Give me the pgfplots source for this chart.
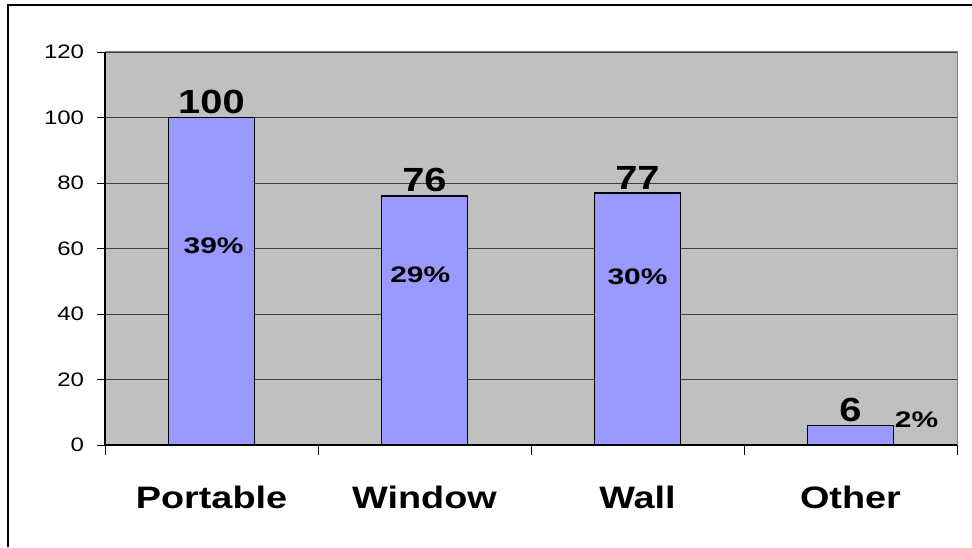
\documentclass[border=0pt]{standalone}
\usepackage{pgfplots}
\pgfplotsset{compat=1.18}
\usepackage{fontspec}
\setmainfont{Liberation Sans}
\definecolor{barc}{HTML}{9999FF}
\definecolor{plotbg}{HTML}{C0C0C0}
\begin{document}
\begin{tikzpicture}[x=1pt,y=1pt]
\path[use as bounding box] (0,0) rectangle (972,547);
\draw[black, line width=1.2pt] (8,0) -- (8,542) -- (972,542);
\begin{axis}[
  at={(105pt,102pt)}, anchor=south west,
  scale only axis, width=852pt, height=393pt,
  xmin=-0.5, xmax=3.5, ymin=0, ymax=120,
  axis background/.style={fill=plotbg},
  axis line style={draw=none},
  ytick={0,20,...,120},
  ymajorgrids, grid style={black!75, line width=0.9pt},
  xtick={0,1,2,3},
  xticklabels={Portable,Window,Wall,Other},
  xtick pos=bottom, ytick pos=left,
  xticklabel style={font=\fontsize{31}{34}\selectfont\bfseries, xscale=1.22, yshift=-29pt},
  yticklabel style={font=\fontsize{19.5}{22}\selectfont, xscale=1.23, anchor=east, xshift=-7pt},
  /pgf/number format/assume math mode=true,
  major x tick style={draw=none},
  minor xtick={-0.5,0.5,1.5,2.5,3.5},
  minor x tick style={black, line width=0.9pt},
  minor tick length=10pt,
  major tick length=8pt,
  y tick style={black, line width=0.9pt},
  tick align=outside,
  clip=false,
]
\addplot[ybar, bar width=86pt, fill=barc, draw=black, line width=1.6pt,
  nodes near coords, point meta=y,
  every node near coord/.append style={font=\fontsize{33.5}{36}\selectfont\bfseries, xscale=1.19, anchor=south, inner sep=0pt, yshift=3pt, black}]
  coordinates {(0,100) (1,76) (2,77) (3,6)};
\draw[black, line width=1.2pt] (rel axis cs:0,1) -- (rel axis cs:0,0) -- (rel axis cs:1,0);
\draw[gray, line width=1pt] (rel axis cs:0,1) -- (rel axis cs:1,1) -- (rel axis cs:1,0);
\node[font=\fontsize{22.5}{25}\selectfont\bfseries, xscale=1.33] at (axis cs:0.01,60.8) {39\%};
\node[font=\fontsize{22.5}{25}\selectfont\bfseries, xscale=1.33] at (axis cs:0.98,51.9) {29\%};
\node[font=\fontsize{22.5}{25}\selectfont\bfseries, xscale=1.33] at (axis cs:2,51.3) {30\%};
\node[font=\fontsize{22.5}{25}\selectfont\bfseries, xscale=1.33] at (axis cs:3.31,7.6) {2\%};
\end{axis}
\end{tikzpicture}
\end{document}
